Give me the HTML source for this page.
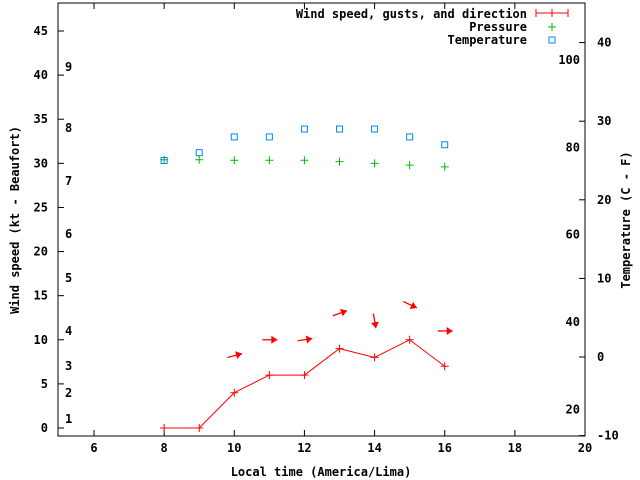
<!DOCTYPE html>
<html><head><meta charset="utf-8"><style>body{margin:0;background:#fff}svg{display:block;font-family:"DejaVu Sans Mono","Liberation Mono",monospace;font-size:12px;font-weight:bold}</style></head>
<body>
<svg id="c" width="640" height="480"></svg>
<script>
const hours=[8,9,10,11,12,13,14,15,16];
const wind=[0,0,4,6,6,9,8,10,7];
const gusts=[null,null,8.2,10,10,13,12.2,14,11];
const windDir=[null,null,-15,0,-8,-20,80,25,0];
const pressure=[30.4,30.4,30.35,30.35,30.35,30.2,30.0,29.8,29.6];
const tempC=[25,26,28,28,29,29,29,28,27];
const xTicks=[6,8,10,12,14,16,18,20];
const yTicks=[0,5,10,15,20,25,30,35,40,45];
const cTicks=[-10,0,10,20,30,40];
const fTicks=[20,40,60,80,100];
const beaufort=[[1,419],[2,393],[3,366],[4,331],[5,278],[6,234],[7,181],[8,128],[9,67]];
const NS='http://www.w3.org/2000/svg';
const svg=document.getElementById('c');
const L=58,R=585,T=3,B=436;
const X=v=>94+(v-6)*(491/14);
const Y=v=>428-v*8.822;
const YC=c=>357-c*7.86;
const YF=f=>YC((f-32)*5/9);
function add(tag,a,txt,name){const e=document.createElementNS(NS,tag);for(const k in a)e.setAttribute(k,a[k]);if(txt!=null)e.textContent=txt;


svg.appendChild(e);return e;}
add('rect',{x:L,y:T,width:R-L,height:B-T,fill:'none',stroke:'#000'},null,'plot-frame');
xTicks.forEach(t=>{const x=X(t);add('line',{x1:x,x2:x,y1:B,y2:B-6,stroke:'#000'},null,'x-tick');add('line',{x1:x,x2:x,y1:T,y2:T+6,stroke:'#000'},null,'x-tick-top');add('text',{x:x,y:B+16,'text-anchor':'middle'},t,'x-tick-label');});
yTicks.forEach(t=>{const y=Y(t);add('line',{x1:L,x2:L+6,y1:y,y2:y,stroke:'#000'},null,'y-tick');add('text',{x:L-10,y:y+4,'text-anchor':'end'},t,'y-tick-label');});
cTicks.forEach(t=>{const y=YC(t);add('line',{x1:R,x2:R-6,y1:y,y2:y,stroke:'#000'},null,'c-tick');add('text',{x:R+12,y:y+4},t,'c-tick-label');});
fTicks.forEach(t=>{add('text',{x:R-5,y:YF(t)+4,'text-anchor':'end'},t,'f-tick-label');});
beaufort.forEach(b=>add('text',{x:65,y:b[1]+4},b[0],'beaufort-label'));
add('text',{x:321,y:476,'text-anchor':'middle'},'Local time (America/Lima)','x-axis-title');
add('text',{x:19,y:220,'text-anchor':'middle',transform:'rotate(-90 19 220)'},'Wind speed (kt - Beaufort)','y-axis-title');
add('text',{x:630,y:220,'text-anchor':'middle',transform:'rotate(-90 630 220)'},'Temperature (C - F)','y2-axis-title');
// wind line
add('polyline',{points:hours.map((h,i)=>X(h)+','+Y(wind[i])).join(' '),fill:'none',stroke:'#f00'},null,'wind-line');
hours.forEach((h,i)=>{const x=X(h),y=Y(wind[i]);add('path',{d:`M${x-4},${y}H${x+4}M${x},${y-4}V${y+4}`,stroke:'#f00'},null,'wind-point');});
// arrows
hours.forEach((h,i)=>{if(gusts[i]==null)return;const a=windDir[i]*Math.PI/180,cx=X(h),cy=Y(gusts[i]);const dx=Math.cos(a),dy=Math.sin(a);
const x1=cx-7*dx,y1=cy-7*dy,x2=cx+8*dx,y2=cy+8*dy;
add('line',{x1:x1,y1:y1,x2:x2,y2:y2,stroke:'#f00','stroke-width':1.3},null,'gust-arrow-shaft');
const px=-dy,py=dx;
add('polygon',{points:`${x2},${y2} ${x2-6*dx+4*px},${y2-6*dy+4*py} ${x2-6*dx-4*px},${y2-6*dy-4*py}`,fill:'#f00'},null,'gust-arrow-head');});
// pressure
hours.forEach((h,i)=>{const x=X(h),y=Y(pressure[i]);add('path',{d:`M${x-4},${y}H${x+4}M${x},${y-4}V${y+4}`,stroke:'#0b0'},null,'pressure-point');});
// temperature
hours.forEach((h,i)=>{add('rect',{x:X(h)-3,y:YC(tempC[i])-3,width:6,height:6,fill:'none',stroke:'#08f'},null,'temperature-point');});
// legend
add('text',{x:527,y:18,'text-anchor':'end'},'Wind speed, gusts, and direction','legend-wind-label');
add('path',{d:'M536,13H568M536,9V17M552,9V17M568,9V17',stroke:'#f00'},null,'legend-wind-marker');
add('text',{x:527,y:31,'text-anchor':'end'},'Pressure','legend-pressure-label');
add('path',{d:'M548,27H556M552,23V31',stroke:'#0b0'},null,'legend-pressure-marker');
add('text',{x:527,y:44,'text-anchor':'end'},'Temperature','legend-temperature-label');
add('rect',{x:549,y:37,width:6,height:6,fill:'none',stroke:'#08f'},null,'legend-temperature-marker');
</script>
</body></html>
